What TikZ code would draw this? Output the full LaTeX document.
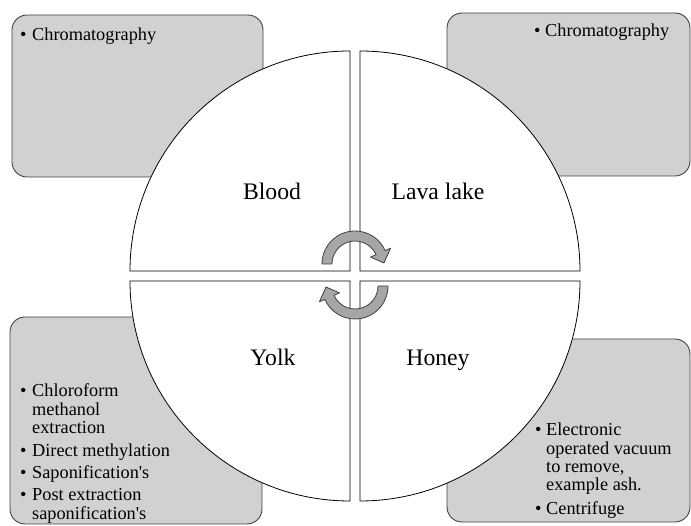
\documentclass[tikz,border=0pt]{standalone}
\usepackage{fontspec}
\setmainfont{Liberation Serif}
\usepackage{tikz}
\tikzset{
  infobox/.style={draw=black!75,fill=black!18,line width=0.9pt,rounded corners=15pt,inner sep=0pt},
  quad/.style={draw=black,fill=white,line width=0.8pt},
  cyclearrow/.style={draw=black!75,fill=black!35,line width=0.8pt,line join=round},
  quadlabel/.style={anchor=base,inner sep=0pt,font=\fontsize{23.7}{27}\selectfont},
  bullettext/.style={anchor=base west,inner sep=0pt,font=\fontsize{18.3}{18}\selectfont}
}

\begin{document}
\begin{tikzpicture}[x=1pt,y=1pt]
\useasboundingbox (0,0) rectangle (691,526);

% Text boxes in the four corners
\node[infobox,minimum width=251,minimum height=162] (boxTL) at (137.5,430) {};
\node[infobox,minimum width=243,minimum height=163] (boxTR) at (568.5,431.5) {};
\node[infobox,minimum width=252,minimum height=207] (boxBL) at (136,105.5) {};
\node[infobox,minimum width=243,minimum height=183] (boxBR) at (568.5,95.5) {};

% Circle, cut into four quadrants
\draw[quad] (350,255) -- ++(-220,0) arc[start angle=180,end angle=90,radius=220] -- cycle;
\draw[quad] (360,255) -- ++(0,220) arc[start angle=90,end angle=0,radius=220] -- cycle;
\draw[quad] (350,245) -- ++(0,-220) arc[start angle=270,end angle=180,radius=220] -- cycle;
\draw[quad] (360,245) -- ++(220,0) arc[start angle=0,end angle=-90,radius=220] -- cycle;

% Quadrant labels
\node[quadlabel] (blood) at (272,326) {Blood};
\node[quadlabel] (lava) at (438,326) {Lava lake};
\node[quadlabel] (yolk) at (273,160) {Yolk};
\node[quadlabel] (honey) at (438,160) {Honey};

% Cycle arrows in the middle
\begin{scope}[shift={(355,262)}]
\draw[cyclearrow] (180:33) arc[start angle=180,end angle=24,radius=33]
  -- (24:39) -- (2:29) -- (24:17) -- (24:23)
  arc[start angle=24,end angle=180,radius=23] -- cycle;
\end{scope}
\begin{scope}[shift={(355,240)},rotate=180]
\draw[cyclearrow] (180:33) arc[start angle=180,end angle=24,radius=33]
  -- (24:39) -- (2:29) -- (24:17) -- (24:23)
  arc[start angle=24,end angle=180,radius=23] -- cycle;
\end{scope}

% Bullet lists
\node[bullettext] (textTL) at (20,485) {\begin{tabular}[t]{@{}p{12pt}@{}l@{}}
  \textbullet & Chromatography
\end{tabular}};
\node[bullettext] (textTR) at (534,489) {\begin{tabular}[t]{@{}p{11pt}@{}l@{}}
  \textbullet & Chromatography
\end{tabular}};
\node[bullettext] (textBL) at (20,129) {\begin{tabular}[t]{@{}p{12pt}@{}l@{}}
  \textbullet & Chloroform\\
   & methanol\\
   & extraction\\[5pt]
  \textbullet & Direct methylation\\[4.5pt]
  \textbullet & Saponification\textquotesingle s\\[4pt]
  \textbullet & Post extraction\\
   & saponification\textquotesingle s
\end{tabular}};
\node[bullettext] (textBR) at (535,90) {\begin{tabular}[t]{@{}p{11pt}@{}l@{}}
  \textbullet & Electronic\\
   & operated vacuum\\
   & to remove,\\
   & example ash.\\[6.5pt]
  \textbullet & Centrifuge
\end{tabular}};

\end{tikzpicture}
\end{document}
